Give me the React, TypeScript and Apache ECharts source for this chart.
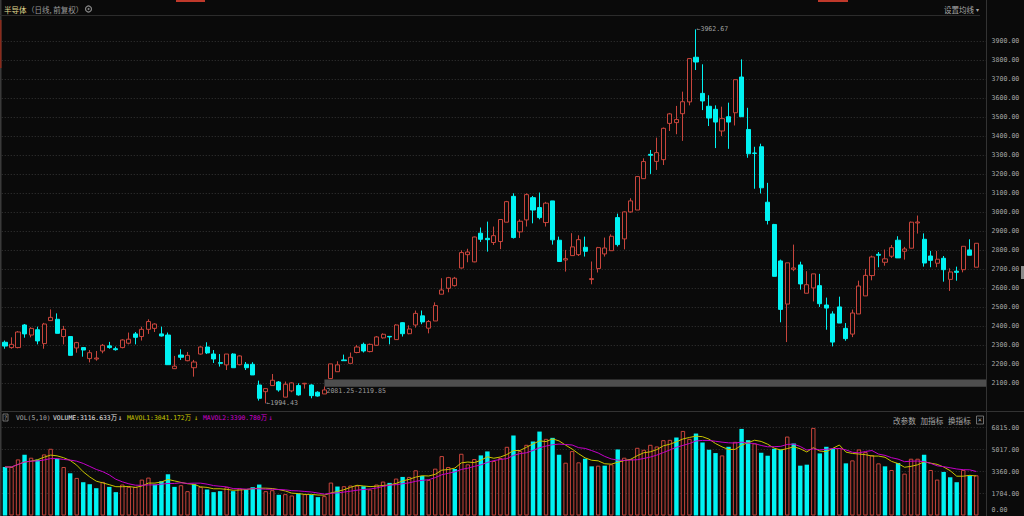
import React, { useEffect, useRef } from "react";
import * as echarts from "echarts";

// ---------- data ----------
const OPEN = [
  2316, 2288, 2288, 2407, 2354, 2382, 2309, 2430, 2437, 2346,
  2346, 2286, 2288, 2230, 2228, 2270, 2297, 2282, 2288, 2311,
  2360, 2346, 2384, 2389, 2360, 2354, 2177, 2249, 2219, 2182,
  2254, 2291, 2254, 2209, 2197, 2254, 2198, 2200, 2200, 2091,
  2056, 2088, 2107, 2027, 2060, 2088, 2097, 2091, 2053, 2044,
  2125, 2161, 2223, 2205, 2262, 2305, 2267, 2300, 2339, 2347,
  2330, 2419, 2361, 2407, 2455, 2390, 2428, 2569, 2600, 2614,
  2707, 2777, 2739, 2890, 2863, 2841, 2846, 2948, 3084, 2897,
  2960, 3077, 3025, 2946, 3060, 2853, 2749, 2772, 2777, 2816,
  2646, 2704, 2781, 2798, 2972, 2860, 3002, 3012, 3177, 3305,
  3268, 3277, 3468, 3472, 3519, 3581, 3816, 3626, 3558, 3542,
  3428, 3503, 3524, 3712, 3436, 3312, 3345, 3053, 2936, 2744,
  2517, 2700, 2723, 2574, 2602, 2614, 2512, 2465, 2502, 2389,
  2359, 2465, 2560, 2667, 2779, 2737, 2769, 2853, 2795, 2811,
  2944, 2858, 2770, 2732, 2758, 2647, 2690, 2698, 2802, 2711,
];
const CLOSE = [
  2296, 2305, 2370, 2360, 2389, 2323, 2412, 2447, 2363, 2384,
  2247, 2314, 2275, 2261, 2233, 2300, 2288, 2277, 2328, 2332,
  2342, 2384, 2425, 2412, 2349, 2198, 2190, 2237, 2247, 2212,
  2291, 2260, 2228, 2205, 2254, 2182, 2244, 2182, 2144, 2021,
  2072, 2116, 2065, 2095, 2102, 2039, 2100, 2035, 2033, 2065,
  2202, 2197, 2219, 2237, 2291, 2270, 2305, 2344, 2358, 2344,
  2407, 2361, 2386, 2468, 2423, 2425, 2509, 2591, 2656, 2653,
  2788, 2791, 2870, 2858, 2856, 2877, 2962, 3056, 2867, 2953,
  3093, 3012, 2972, 3048, 2855, 2741, 2756, 2818, 2856, 2795,
  2651, 2814, 2812, 2874, 2830, 3002, 3060, 3188, 3267, 3300,
  3314, 3442, 3518, 3488, 3582, 3809, 3791, 3586, 3496, 3475,
  3493, 3475, 3698, 3503, 3308, 3310, 3129, 2957, 2663, 2489,
  2734, 2707, 2623, 2619, 2676, 2519, 2496, 2317, 2417, 2335,
  2470, 2612, 2668, 2765, 2774, 2755, 2814, 2760, 2807, 2948,
  2949, 2733, 2747, 2753, 2698, 2686, 2684, 2821, 2774, 2837,
];
const LOW = [
  2282, 2282, 2284, 2340, 2342, 2305, 2282, 2430, 2363, 2305,
  2247, 2261, 2240, 2210, 2219, 2258, 2282, 2272, 2284, 2305,
  2305, 2325, 2360, 2370, 2346, 2198, 2177, 2223, 2216, 2135,
  2251, 2254, 2207, 2188, 2170, 2182, 2195, 2170, 2144, 2009,
  1994.43, 2088, 2056, 2027, 2053, 2035, 2072, 2021, 2030, 2044,
  2125, 2161, 2219, 2205, 2258, 2262, 2263, 2298, 2335, 2305,
  2330, 2346, 2358, 2393, 2411, 2363, 2428, 2569, 2579, 2609,
  2704, 2737, 2737, 2844, 2793, 2828, 2806, 2948, 2862, 2865,
  2925, 2942, 2963, 2925, 2830, 2741, 2688, 2772, 2770, 2767,
  2621, 2683, 2767, 2798, 2820, 2805, 2998, 3012, 3177, 3202,
  3223, 3249, 3428, 3411, 3376, 3563, 3749, 3538, 3454, 3338,
  3401, 3334, 3457, 3503, 3287, 3124, 3099, 2936, 2663, 2421,
  2317, 2690, 2593, 2574, 2531, 2502, 2382, 2294, 2417, 2324,
  2343, 2465, 2560, 2642, 2711, 2719, 2760, 2760, 2751, 2811,
  2888, 2714, 2711, 2711, 2635, 2586, 2640, 2684, 2774, 2711,
];
const HIGH = [
  2325, 2342, 2375, 2412, 2395, 2398, 2418, 2489, 2468, 2402,
  2349, 2318, 2291, 2275, 2270, 2307, 2318, 2293, 2332, 2367,
  2370, 2398, 2437, 2416, 2398, 2367, 2244, 2279, 2265, 2223,
  2295, 2316, 2275, 2254, 2254, 2258, 2247, 2212, 2211, 2114,
  2072, 2149, 2112, 2109, 2105, 2100, 2102, 2095, 2058, 2083,
  2202, 2216, 2251, 2262, 2302, 2314, 2309, 2349, 2363, 2347,
  2411, 2421, 2405, 2483, 2483, 2433, 2526, 2653, 2660, 2660,
  2800, 2808, 2872, 2920, 2951, 2925, 2962, 3060, 3100, 2963,
  3100, 3086, 3104, 3055, 3060, 2872, 2802, 2890, 2879, 2872,
  2741, 2818, 2867, 2884, 2993, 3005, 3074, 3191, 3284, 3328,
  3393, 3446, 3523, 3560, 3635, 3812, 3962.67, 3779, 3616, 3563,
  3556, 3577, 3698, 3805, 3550, 3345, 3361, 3155, 2939, 2751,
  2734, 2830, 2740, 2690, 2676, 2676, 2551, 2479, 2556, 2417,
  2488, 2640, 2702, 2772, 2791, 2804, 2828, 2874, 2818, 2951,
  2983, 2889, 2797, 2797, 2770, 2705, 2714, 2821, 2858, 2837,
];
// volume, in 万
const VOLUME = [
  3765, 3765, 4356, 4716, 4485, 4330, 4742, 5179, 4408, 3765,
  3277, 2917, 2583, 2429, 2120, 2608, 2223, 1812, 2403, 2223,
  2223, 2788, 2943, 2403, 2660, 3200, 2223, 2352, 1889, 2429,
  2223, 2017, 1812, 1889, 2197, 1889, 2095, 2017, 2197, 2403,
  1889, 1966, 1606, 1658, 1555, 1709, 1658, 1606, 1426, 1503,
  2557, 2249, 2275, 2326, 2326, 2275, 2017, 2403, 2634, 2531,
  2866, 2994, 2994, 3508, 3071, 2763, 3637, 4613, 3765, 3611,
  4793, 3971, 4382, 4665, 4973, 4228, 4459, 5333, 6207, 4999,
  5487, 5744, 6515, 5950, 6027, 4716, 4099, 4999, 4125, 4408,
  3816, 3868, 3868, 3971, 5127, 4485, 4382, 5256, 5102, 5487,
  5359, 5847, 5872, 6053, 6566, 5950, 6361, 5667, 5102, 4845,
  4665, 5333, 5719, 6721, 5847, 5590, 4870, 4639, 5179, 5127,
  6129, 5590, 3868, 3945, 6798, 4819, 5333, 5179, 5230, 4048,
  4279, 5127, 4922, 4690, 4048, 3816, 3534, 4073, 3251, 4408,
  4408, 4716, 3534, 2788, 3380, 2968, 2583, 3534, 3123, 3123,
];
const DAYS = OPEN.map((_, i) => "D" + (i + 1)).concat(["END"]);
const VOL_TICK_LABELS = ["0.00", "1704.00", "3360.00", "5017.00", "6815.00"];
const VOL_AXIS_MAX = 6815;
const PRICE_MIN = 2000;
const PRICE_MAX = 4000;
const PRICE_STEP = 100;
const GAP_LOW = 2081.25;
const GAP_HIGH = 2119.85;
const GAP_START_INDEX = 49;
const PEAK_INDEX = 106;
const TROUGH_INDEX = 40;
const HEADER_VOLUME = "VOLUME:3116.633万";
const HEADER_MAVOL1 = "MAVOL1:3041.172万";
const HEADER_MAVOL2 = "MAVOL2:3390.780万";

// ---------- styles ----------
const BG = "#0a0a0a";
const RED = "#c8453c";
const CYAN = "#00f2f2";
const YELLOW = "#c8c400";
const MAGENTA = "#c400c8";
const GRID_LINE = "#363636";
const AXIS_TEXT = "#a8a8a8";
const MONO = "'DejaVu Sans Mono', 'Liberation Mono', 'Noto Sans CJK SC', monospace";
const CJK = "'Noto Sans CJK SC', sans-serif";

function movingAverage(values: number[], n: number) {
  return values.map((_, i) => {
    const s = Math.max(0, i - n + 1);
    const win = values.slice(s, i + 1);
    return +(win.reduce((a, b) => a + b, 0) / win.length).toFixed(1);
  });
}

function buildOption() {
  const candles = OPEN.map((o, i) => [o, CLOSE[i], LOW[i], HIGH[i]]);
  const volumes = VOLUME.map((v, i) => {
    const prev = i === 0 ? OPEN[0] : CLOSE[i - 1];
    const up = CLOSE[i] > prev;
    return {
      value: v,
      itemStyle: up
        ? { color: BG, borderColor: RED, borderWidth: 1 }
        : { color: CYAN, borderColor: CYAN, borderWidth: 0 },
    };
  });
  const ma5 = movingAverage(VOLUME, 5);
  const ma10 = movingAverage(VOLUME, 10);
  const volStep = VOL_AXIS_MAX / 4;

  const grids = [
    { left: 1.74, top: 22.3, width: 984.3, height: 380 },
    { left: 1.74, top: 427.7, width: 984.3, height: 87.8 },
  ];
  const xAxisBase = {
    type: "category",
    data: DAYS,
    boundaryGap: true,
    axisLine: { show: false },
    axisTick: { show: false },
    axisLabel: { show: false },
    splitLine: { show: false },
  };

  const headerTexts: any[] = [
    { x: 4, y: 9, text: "半导体", fill: "#e0d890", size: 7.5, font: CJK },
    { x: 27, y: 9, text: "（日线, 前复权）", fill: "#9a9a9a", size: 7.5, font: CJK },
    { x: 944, y: 9, text: "设置均线", fill: "#a8a8a8", size: 7.5, font: CJK },
    { x: 976, y: 9, text: "▾", fill: "#a8a8a8", size: 6, font: CJK },
    { x: 16, y: 418, text: "VOL(5,10)", fill: "#a8a8a8", size: 6.4, font: MONO },
    { x: 53, y: 418, text: HEADER_VOLUME, fill: "#e6e6e6", size: 6.4, font: MONO },
    { x: 118, y: 418, text: "↓", fill: "#e6e6e6", size: 7, font: MONO },
    { x: 127, y: 418, text: HEADER_MAVOL1, fill: YELLOW, size: 6.4, font: MONO },
    { x: 194, y: 418, text: "↓", fill: YELLOW, size: 7, font: MONO },
    { x: 203, y: 418, text: HEADER_MAVOL2, fill: "#d000d0", size: 6.4, font: MONO },
    { x: 268.5, y: 418, text: "↓", fill: "#d000d0", size: 7, font: MONO },
    { x: 893, y: 420, text: "改参数", fill: "#a8a8a8", size: 7.6, font: CJK },
    { x: 920.5, y: 420, text: "加指标", fill: "#a8a8a8", size: 7.6, font: CJK },
    { x: 948, y: 420, text: "换指标", fill: "#a8a8a8", size: 7.6, font: CJK },
    { x: 5.5, y: 417.5, text: "?", fill: "#a8a8a8", size: 6, font: MONO, align: "center" },
    { x: 979.8, y: 420, text: "×", fill: "#a8a8a8", size: 7, font: MONO, align: "center" },
  ].map((t) => ({
    type: "text",
    x: t.x,
    y: t.y,
    silent: true,
    style: {
      text: t.text,
      fill: t.fill,
      fontSize: t.size,
      fontFamily: t.font,
      verticalAlign: "middle",
      align: t.align || "left",
    },
  }));

  const graphic: any[] = [
    { type: "rect", silent: true, shape: { x: 0, y: 0, width: 1.5, height: 516 }, style: { fill: "#3a3a3a" } },
    { type: "rect", silent: true, shape: { x: 0, y: 20, width: 1.5, height: 48 }, style: { fill: "#8a2b1c" } },
    { type: "rect", silent: true, shape: { x: 176, y: 0, width: 29, height: 2 }, style: { fill: "#c0392b" } },
    { type: "rect", silent: true, shape: { x: 818, y: 0, width: 30, height: 2 }, style: { fill: "#c0392b" } },
    { type: "line", silent: true, shape: { x1: 0, y1: 15.5, x2: 980, y2: 15.5 }, style: { stroke: "#2c2c2c", lineWidth: 1 } },
    { type: "line", silent: true, shape: { x1: 986.5, y1: 0, x2: 986.5, y2: 516 }, style: { stroke: "#333", lineWidth: 1 } },
    { type: "line", silent: true, shape: { x1: 0, y1: 411.5, x2: 1024, y2: 411.5 }, style: { stroke: "#333", lineWidth: 1 } },
    { type: "rect", silent: true, shape: { x: 1021, y: 266, width: 3, height: 13 }, style: { fill: "#8a8a8a" } },
    { type: "circle", silent: true, shape: { cx: 88.5, cy: 9, r: 3 }, style: { fill: "none", stroke: "#888", lineWidth: 1.2 } },
    { type: "circle", silent: true, shape: { cx: 88.5, cy: 9, r: 1 }, style: { fill: "#888" } },
    { type: "rect", silent: true, shape: { x: 3, y: 414, width: 5, height: 7 }, style: { fill: "none", stroke: "#888", lineWidth: 0.8 } },
    { type: "rect", silent: true, shape: { x: 976.5, y: 416, width: 7, height: 8 }, style: { fill: "none", stroke: "#888", lineWidth: 0.8 } },
    ...headerTexts,
  ];

  return {
    animation: false,
    backgroundColor: BG,
    grid: grids,
    graphic,
    xAxis: [
      { ...xAxisBase, gridIndex: 0 },
      { ...xAxisBase, gridIndex: 1 },
    ],
    yAxis: [
      {
        type: "value",
        gridIndex: 0,
        position: "right",
        min: PRICE_MIN,
        max: PRICE_MAX,
        interval: PRICE_STEP,
        axisLine: { show: false },
        axisTick: { show: false },
        axisLabel: {
          color: AXIS_TEXT,
          fontSize: 6.6,
          fontFamily: MONO,
          margin: 5.5,
          showMinLabel: false,
          showMaxLabel: false,
          formatter: (v: number) => v.toFixed(2),
        },
        splitLine: {
          show: true,
          showMinLine: false,
          showMaxLine: false,
          lineStyle: { color: GRID_LINE, type: [1, 2], width: 1 },
        },
      },
      {
        type: "value",
        gridIndex: 1,
        position: "right",
        min: 0,
        max: VOL_AXIS_MAX,
        interval: volStep,
        axisLine: { show: false },
        axisTick: { show: false },
        axisLabel: {
          color: AXIS_TEXT,
          fontSize: 6.6,
          fontFamily: MONO,
          margin: 5.5,
          formatter: (v: number) => {
            const idx = Math.round(v / volStep);
            const s = VOL_TICK_LABELS[idx] || "";
            return idx === 0 ? "{z|" + s + "}" : s;
          },
          rich: {
            z: { color: AXIS_TEXT, fontSize: 6.6, fontFamily: MONO, padding: [0, 0, 11, 0] },
          },
        },
        splitLine: {
          show: true,
          showMinLine: false,
          showMaxLine: true,
          lineStyle: { color: GRID_LINE, type: [1, 2], width: 1 },
        },
      },
    ],
    series: [
      {
        type: "candlestick",
        xAxisIndex: 0,
        yAxisIndex: 0,
        data: candles,
        barWidth: 4.6,
        clip: false,
        itemStyle: {
          color: BG,
          color0: CYAN,
          borderColor: RED,
          borderColor0: CYAN,
          borderColorDoji: RED,
          borderWidth: 1,
        },
        markArea: {
          silent: true,
          itemStyle: { color: "#4e4e4e" },
          label: {
            show: true,
            position: [2, 11],
            align: "left",
            verticalAlign: "middle",
            color: "#9a9a9a",
            fontSize: 6.6,
            fontFamily: MONO,
            formatter: () => GAP_LOW.toFixed(2) + "-" + GAP_HIGH.toFixed(2),
          },
          data: [[{ xAxis: DAYS[GAP_START_INDEX], yAxis: GAP_HIGH }, { yAxis: GAP_LOW }]],
        },
      },
      {
        // extreme-value annotations (high and low of the period)
        type: "scatter",
        xAxisIndex: 0,
        yAxisIndex: 0,
        clip: false,
        silent: true,
        symbol: "circle",
        symbolSize: 1,
        itemStyle: { color: "rgba(0,0,0,0)" },
        label: {
          show: true,
          position: "right",
          distance: 0,
          color: "#c8c8c8",
          fontSize: 6.6,
          fontFamily: MONO,
          formatter: (p: any) => "←" + Number(p.value[1]).toFixed(2),
        },
        data: [
          [DAYS[PEAK_INDEX], HIGH[PEAK_INDEX]],
          [DAYS[TROUGH_INDEX], LOW[TROUGH_INDEX]],
        ],
      },
      {
        type: "bar",
        xAxisIndex: 1,
        yAxisIndex: 1,
        data: volumes,
        barWidth: 4.4,
      },
      {
        type: "line",
        xAxisIndex: 1,
        yAxisIndex: 1,
        data: ma5,
        showSymbol: false,
        symbol: "none",
        lineStyle: { color: YELLOW, width: 1 },
      },
      {
        type: "line",
        xAxisIndex: 1,
        yAxisIndex: 1,
        data: ma10,
        showSymbol: false,
        symbol: "none",
        lineStyle: { color: MAGENTA, width: 1 },
      },
    ],
  };
}

export default function App() {
  const ref = useRef<HTMLDivElement>(null);
  useEffect(() => {
    document.body.style.margin = "0";
    document.body.style.background = BG;
    const chart = echarts.init(ref.current as HTMLDivElement, null, { renderer: "svg" });
    chart.setOption(buildOption() as any);
    return () => chart.dispose();
  }, []);
  return (
    <div
      ref={ref}
      style={{ position: "fixed", left: 0, top: 0, width: 1024, height: 516, background: BG }}
    />
  );
}
